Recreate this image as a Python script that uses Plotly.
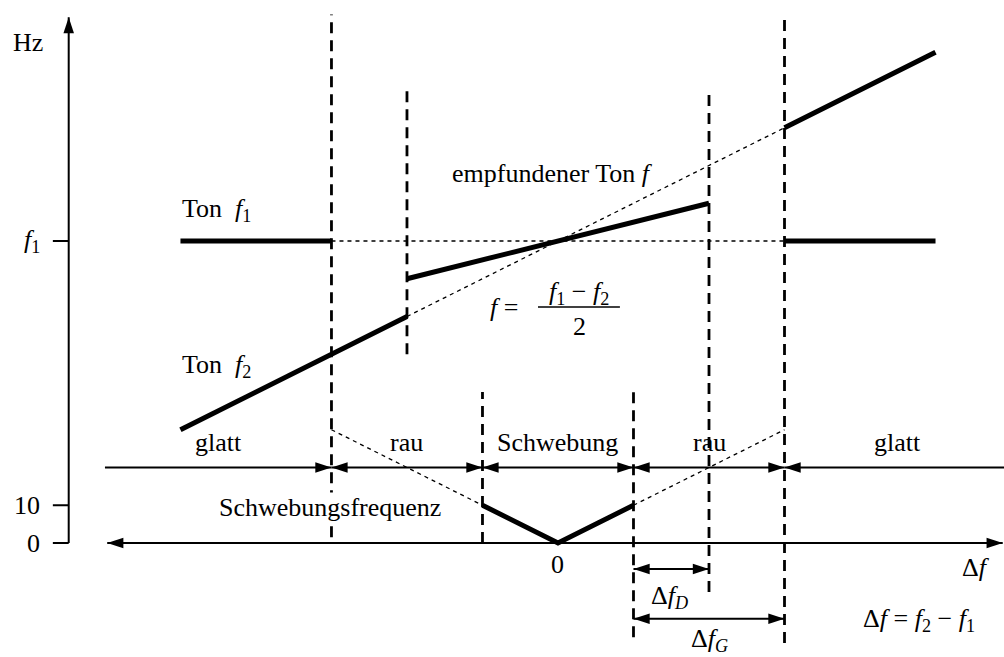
import plotly.graph_objects as go

# All horizontal positions are frequency differences Δf = f2 - f1 in Hz,
# all vertical positions are frequencies in Hz.
F1_HZ = 80

# heard tones, drawn as thick segments
ton_f1_df = [[-50, -30], [30, 50]]
ton_f1_hz = [[80, 80], [80, 80]]
ton_f2_df = [[-50, -20], [30, 50]]
ton_f2_hz = [[30, 60], [110, 130]]
heard_df = [-20, 20]
heard_hz = [70, 90]
beat_df = [-10, 0, 10]
beat_hz = [10, 0, 10]

# thin dotted continuations
guide_f1_df = [-30, 30]
guide_f1_hz = [80, 80]
guide_f2_df = [-20, 30]
guide_f2_hz = [60, 110]
guide_beat_df = [[-30, -10], [10, 30]]
guide_beat_hz = [[30, 10], [10, 30]]

# dashed boundaries between the perception zones
boundary_df = [-30, -20, -10, 10, 20, 30]
boundary_top_hz = [140, 120, 40, 40, 120, 140]
boundary_bottom_hz = [1.5, 50, 0, -25, -13, -26.5]

zone_names = ["glatt", "rau", "Schwebung", "rau", "glatt"]
zone_edges = [-60, -30, -10, 10, 30, 60]
ZONE_ROW_HZ = 20

tick_hz = [0, 10, F1_HZ]
tick_text = ["0", "10", "<i>f</i><sub>1</sub>"]

df_D = [10, 20]
df_G = [10, 30]

FONT = dict(family="Liberation Serif", size=26, color="black")
BLACK = "black"

fig = go.Figure()


def seg(xs, ys, width, dash="solid"):
    fig.add_trace(go.Scatter(x=xs, y=ys, mode="lines", hoverinfo="skip",
                             line=dict(color=BLACK, width=width, dash=dash)))


# dotted guides first so solid strokes sit on top
seg(guide_f1_df, guide_f1_hz, 1.3, "4px,4px")
seg(guide_f2_df, guide_f2_hz, 1.3, "4px,4px")
for xs, ys in zip(guide_beat_df, guide_beat_hz):
    seg(xs, ys, 1.3, "4px,4px")

# dashed zone boundaries
for x, top, bot in zip(boundary_df, boundary_top_hz, boundary_bottom_hz):
    seg([x, x], [bot, top], 2.8, "11px,7px")

# thick tone lines
for xs, ys in zip(ton_f1_df, ton_f1_hz):
    seg(xs, ys, 5)
for xs, ys in zip(ton_f2_df, ton_f2_hz):
    seg(xs, ys, 5)
seg(heard_df, heard_hz, 5)
seg(beat_df, beat_hz, 5)

# arrows: shafts collected as one line trace, heads as rotated arrow markers
shaft_x, shaft_y = [], []
head_x, head_y, head_angle = [], [], []


def arrow(x0, y0, x1, y1, start=False, end=True):
    shaft_x.extend([x0, x1, None])
    shaft_y.extend([y0, y1, None])
    if x0 == x1:
        ang_end, ang_start = (0, 180) if y1 > y0 else (180, 0)
    else:
        ang_end, ang_start = (90, 270) if x1 > x0 else (270, 90)
    if end:
        head_x.append(x1)
        head_y.append(y1)
        head_angle.append(ang_end)
    if start:
        head_x.append(x0)
        head_y.append(y0)
        head_angle.append(ang_start)


annotations = []


def label(x, y, text, xanchor="center", yanchor="middle", **kw):
    annotations.append(dict(x=x, y=y, xref="x", yref="y", text=text,
                            showarrow=False, font=FONT, xanchor=xanchor,
                            yanchor=yanchor, **kw))


# frequency axis (vertical) with ticks
AXIS_X = -64.8
arrow(AXIS_X, 0, AXIS_X, 139.3)
for hz, txt in zip(tick_hz, tick_text):
    fig.add_shape(type="line", x0=-66.9, x1=AXIS_X, y0=hz, y1=hz,
                  line=dict(color=BLACK, width=2))
    label(-68.3, hz, txt, xanchor="right")
label(-70.2, 132.7, "Hz")

# Δf axis (horizontal, both directions)
arrow(-59.7, 0, 58.9, 0, start=True)
label(0, -5.8, "0")
label(55.4, -6.6, "Δ<i>f</i>")
label(47.8, -20.4, "Δ<i>f</i> = <i>f</i><sub>2</sub> − <i>f</i><sub>1</sub>")

# zone row with arrows and names
n = len(zone_names)
for i, name in enumerate(zone_names):
    a, b = zone_edges[i], zone_edges[i + 1]
    arrow(a, ZONE_ROW_HZ, b, ZONE_ROW_HZ, start=(i > 0), end=(i < n - 1))
    label((a + b) / 2, 26.5, name)

# Δf_D and Δf_G spans
arrow(df_D[0], -6.9, df_D[1], -6.9, start=True)
label(14.8, -14.3, "Δ<i>f</i><sub><i>D</i></sub>")
arrow(df_G[0], -20.1, df_G[1], -20.1, start=True)
label(20.1, -25.6, "Δ<i>f</i><sub><i>G</i></sub>")

fig.add_trace(go.Scatter(x=shaft_x, y=shaft_y, mode="lines", hoverinfo="skip",
                         line=dict(color=BLACK, width=2)))
fig.add_trace(go.Scatter(x=head_x, y=head_y, mode="markers", hoverinfo="skip",
                         marker=dict(symbol="arrow", size=17, angle=head_angle,
                                     color=BLACK, line=dict(width=0))))

# curve names
label(-50, 88.2, "Ton\u2002<i>f</i><sub>1</sub>", xanchor="left")
label(-50, 46.9, "Ton\u2002<i>f</i><sub>2</sub>", xanchor="left")
label(-14.3, 98, "empfundener Ton <i>f</i>", xanchor="left")
label(-30.2, 9.5, "Schwebungsfrequenz", bgcolor="white", borderpad=0)

# f = (f1 - f2) / 2
label(-7.2, 62.5, "<i>f</i> =")
label(2.8, 66.2, "<i>f</i><sub>1</sub> − <i>f</i><sub>2</sub>")
label(2.8, 57.3, "2")
fig.add_shape(type="line", x0=-2.65, x1=8.2, y0=62.5, y1=62.5,
              line=dict(color=BLACK, width=1.5))

fig.update_layout(
    width=1004, height=657,
    margin=dict(l=0, r=0, t=0, b=0),
    paper_bgcolor="white", plot_bgcolor="white",
    showlegend=False,
    xaxis=dict(range=[-73.9, 59.07], visible=False, fixedrange=True),
    yaxis=dict(range=[-30.2, 143.84], visible=False, fixedrange=True),
    annotations=annotations,
)

fig.write_html("out.html")
